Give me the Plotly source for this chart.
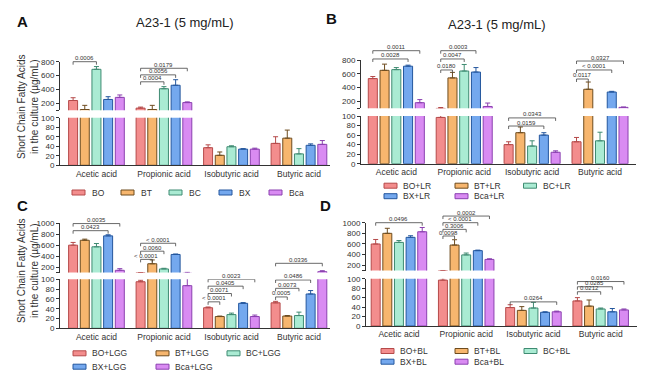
import plotly.graph_objects as go

W, H = 650, 380

# ---------------- data ----------------
categories = ["Acetic acid", "Propionic acid", "Isobutyric acid", "Butyric acid"]

A_series = ["BO", "BT", "BC", "BX", "Bca"]
A_mean = [[240, 130, 37, 46], [110, 110, 21, 57], [690, 410, 39, 24], [255, 460, 34, 42], [285, 210, 34, 44]]
A_err = [[40, 15, 6, 14], [60, 60, 7, 17], [40, 30, 2, 11], [40, 80, 1, 3], [35, 10, 2, 8]]
A_pvals = [(0, 0, 2, "0.0006", 800), (1, 0, 2, "0.0004", 510), (1, 0, 3, "0.0056", 610),
           (1, 0, 4, "0.0179", 705)]

B_series = ["BO+LR", "BT+LR", "BC+LR", "BX+LR", "Bca+LR"]
B_mean = [[530, 97, 40, 46], [650, 540, 65, 375], [660, 640, 37, 48], [710, 625, 60, 335], [180, 125, 24, 112]]
B_err = [[30, 13, 6, 9], [90, 80, 12, 105], [30, 95, 11, 18], [15, 65, 5, 10], [45, 50, 3, 5]]
B_pvals = [(0, 0, 3, "0.0028", 815), (0, 0, 4, "0.0011", 935), (1, 0, 1, "0.0180", 655),
           (1, 0, 2, "0.0047", 815), (1, 0, 3, "0.0003", 935), (2, 0, 3, "0.0159", 79),
           (2, 0, 4, "0.0343", 96), (3, 0, 1, "0.0117", 524), (3, 0, 3, "< 0.0001", 655),
           (3, 0, 4, "0.0327", 785)]

C_series = ["BO+LGG", "BT+LGG", "BC+LGG", "BX+LGG", "Bca+LGG"]
C_mean = [[600, 95, 42, 52], [690, 260, 24, 25], [570, 165, 28, 26], [770, 430, 51, 70], [140, 87, 24, 115]]
C_err = [[50, 3, 1.5, 3], [20, 70, 1, 1], [60, 12, 3, 7], [20, 8, 1.5, 7], [30, 15, 3, 18]]
C_pvals = [(0, 0, 3, "0.0423", 865), (0, 0, 4, "0.0035", 995), (1, 0, 1, "< 0.0001", 340),
           (1, 0, 2, "0.0060", 490), (1, 0, 3, "< 0.0001", 635), (2, 0, 1, "< 0.0001", 54),
           (2, 0, 2, "0.0071", 71), (2, 0, 3, "0.0405", 86), (2, 0, 4, "0.0023", 100),
           (3, 0, 1, "0.0005", 64), (3, 0, 2, "0.0073", 81.6), (3, 0, 3, "0.0486", 98.6),
           (3, 0, 4, "0.0336", 268)]

D_series = ["BO+BL", "BT+BL", "BC+BL", "BX+BL", "Bca+BL"]
D_mean = [[600, 97, 39, 53], [800, 580, 33, 42], [630, 395, 38, 36], [725, 475, 29, 30], [830, 310, 30, 34]]
D_err = [[85, 5, 6, 7], [95, 100, 8, 13], [35, 35, 12, 2], [30, 10, 1, 7], [80, 12, 1.5, 2]]
D_pvals = [(0, 0, 4, "0.0496", 1000), (1, 0, 1, "0.0098", 750), (1, 0, 2, "0.3006", 875),
           (1, 0, 3, "< 0.0001", 1000), (1, 0, 4, "0.0002", 1125), (2, 0, 4, "0.0264", 51),
           (3, 0, 2, "0.0212", 72.5), (3, 0, 3, "0.0285", 83), (3, 0, 4, "0.0160", 94)]

title_text = "A23-1 (5 mg/mL)"
ytitle_text = "Short Chain Fatty Acids<br>in the culture (µg/mL)"

# ---------------- styles / layout geometry ----------------
FONT = "Liberation Sans, Arial, sans-serif"
fills = ["#F38D8D", "#F7B66E", "#AAEBD3", "#74A8EE", "#D98BF2"]
edges = ["#B54A4A", "#6E4C1F", "#3F8B72", "#24579E", "#8B40B0"]
AX = "#333333"
BARGAP = 0.135
BARGROUPGAP = 0.23

panels = [
    dict(letter="A", series=A_series, mean=A_mean, err=A_err, pv=A_pvals,
         x=(60, 330), xr=(-0.54, 3.46), top=(61.7, 110.2), tr=(100, 800), bot=(117.7, 165.3),
         tt=[100, 200, 400, 600, 800],
         legend=dict(rows=[[0, 1, 2, 3, 4]], cols=[72, 121, 169, 219, 269], ys=[192.5], tx=18),
         lpos=(22, 22)),
    dict(letter="B", series=B_series, mean=B_mean, err=B_err, pv=B_pvals,
         x=(361, 636), xr=(-0.52, 3.53), top=(60, 108.2), tr=(100, 800), bot=(116, 163.7),
         tt=[100, 200, 400, 600, 800],
         legend=dict(rows=[[0, 1, 2], [3, 4]], cols=[384, 455, 523.5], ys=[185.7, 196.2], tx=17),
         lpos=(331, 18)),
    dict(letter="C", series=C_series, mean=C_mean, err=C_err, pv=C_pvals,
         x=(60, 330), xr=(-0.54, 3.46), top=(223.3, 272.5), tr=(100, 1000), bot=(279.3, 328.3),
         tt=[100, 200, 400, 600, 800, 1000],
         legend=dict(rows=[[0, 1, 2], [3, 4]], cols=[73, 156, 227], ys=[353.3, 366.7], tx=17),
         lpos=(22, 205)),
    dict(letter="D", series=D_series, mean=D_mean, err=D_err, pv=D_pvals,
         x=(366, 637), xr=(-0.49, 3.54), top=(222.7, 270.6), tr=(100, 1000), bot=(278.7, 326),
         tt=[100, 200, 400, 600, 800, 1000],
         legend=dict(rows=[[0, 1, 2], [3, 4]], cols=[381, 455, 524], ys=[351, 361.7], tx=17),
         lpos=(326, 205)),
]


def px_x(v):
    return v / W


def px_y(v):
    return 1 - v / H


fig = go.Figure()
layout = dict(template="none", width=W, height=H, margin=dict(l=0, r=0, t=0, b=0, pad=0, autoexpand=False),
              paper_bgcolor="white", plot_bgcolor="rgba(0,0,0,0)",
              barmode="group", bargap=BARGAP, bargroupgap=BARGROUPGAP,
              showlegend=False, font=dict(family=FONT, color=AX))
shapes = []
annotations = []

slot = (1 - BARGAP) / 5

for pi, p in enumerate(panels):
    xid = pi + 1
    yb, yt, yo = 3 * pi + 1, 3 * pi + 2, 3 * pi + 3
    xn = "x" if xid == 1 else f"x{xid}"
    ybn = "y" if yb == 1 else f"y{yb}"
    ytn, yon = f"y{yt}", f"y{yo}"
    xk = "xaxis" if xid == 1 else f"xaxis{xid}"
    ybk = "yaxis" if yb == 1 else f"yaxis{yb}"

    common = dict(showgrid=False, zeroline=False, fixedrange=True, automargin=False)
    layout[xk] = dict(domain=[px_x(p["x"][0]), px_x(p["x"][1])], range=list(p["xr"]),
                      type="category", categoryorder="array", categoryarray=categories,
                      anchor=ybn, showline=True, linecolor=AX, linewidth=1, ticks="",
                      tickfont=dict(size=8.5, color=AX), **common)
    layout[ybk] = dict(domain=[px_y(p["bot"][1]), px_y(p["bot"][0])], range=[0, 100],
                       anchor=xn, showline=True, linecolor=AX, linewidth=1, ticks="outside",
                       ticklen=3, tickcolor=AX, tickwidth=1, tickmode="array",
                       tickvals=[0, 20, 40, 60, 80, 100],
                       tickfont=dict(size=8, color=AX), **common)
    layout[f"yaxis{yt}"] = dict(domain=[px_y(p["top"][1]), px_y(p["top"][0])], range=list(p["tr"]),
                                anchor=xn, showline=True, linecolor=AX, linewidth=1,
                                ticks="outside", ticklen=3, tickcolor=AX, tickwidth=1,
                                tickmode="array", tickvals=p["tt"],
                                ticktext=["" if v == p["tr"][0] else str(v) for v in p["tt"]],
                                tickfont=dict(size=8, color=AX), **common)
    # overlay axis: same scale as top segment, extended upwards for brackets
    upp_top = (p["tr"][1] - p["tr"][0]) / (p["top"][1] - p["top"][0])
    ov_top_px = max(2.0, p["top"][0] - 40)
    ov_hi = p["tr"][1] + (p["top"][0] - ov_top_px) * upp_top
    layout[f"yaxis{yo}"] = dict(domain=[px_y(p["top"][1]), px_y(ov_top_px)],
                                range=[p["tr"][0], ov_hi], anchor=xn, visible=False,
                                **common)
    upp_bot = 100 / (p["bot"][1] - p["bot"][0])

    for k, name in enumerate(p["series"]):
        for yaxis_name in (ybn, ytn):
            fig.add_trace(go.Bar(
                x=categories, y=p["mean"][k], name=name, xaxis=xn, yaxis=yaxis_name,
                marker=dict(color=fills[k], line=dict(color=edges[k], width=1)),
                error_y=dict(type="data", array=p["err"][k], arrayminus=[0] * len(categories),
                             symmetric=False, color=edges[k], thickness=1, width=2.5),
                showlegend=False, hoverinfo="skip"))
    # helper (invisible) so the overlay subplot exists
    fig.add_trace(go.Scatter(x=[categories[0]], y=[p["tr"][0]], xaxis=xn, yaxis=yon,
                             mode="markers", marker=dict(opacity=0, size=1),
                             showlegend=False, hoverinfo="skip"))

    # significance brackets
    for (g, i, j, lab, lev) in p["pv"]:
        xi = g + (i - 2) * slot
        xj = g + (j - 2) * slot
        if lev > 100:
            yref, drop = yon, 3 * upp_top
        else:
            yref, drop = ybn, 3 * upp_bot
        ln = dict(color="#444444", width=0.8)
        shapes.append(dict(type="line", xref=xn, yref=yref, x0=xi, x1=xj, y0=lev, y1=lev, line=ln))
        shapes.append(dict(type="line", xref=xn, yref=yref, x0=xi, x1=xi, y0=lev - drop, y1=lev, line=ln))
        shapes.append(dict(type="line", xref=xn, yref=yref, x0=xj, x1=xj, y0=lev - drop, y1=lev, line=ln))
        annotations.append(dict(x=(xi + xj) / 2, y=lev, xref=xn, yref=yref, text=lab,
                                showarrow=False, xanchor="center", yanchor="bottom", yshift=-1.5,
                                font=dict(size=6, color="#333333", family=FONT)))

    # manual legend
    lg = p["legend"]
    for r, row in enumerate(lg["rows"]):
        for c, k in enumerate(row):
            x0 = lg["cols"][c]
            yc = lg["ys"][r]
            shapes.append(dict(type="rect", xref="paper", yref="paper",
                               x0=px_x(x0), x1=px_x(x0 + 13), y0=px_y(yc + 2.5), y1=px_y(yc - 2.5),
                               fillcolor=fills[k], line=dict(color=edges[k], width=1)))
            annotations.append(dict(x=px_x(x0 + lg["tx"]), y=px_y(yc), xref="paper", yref="paper",
                                    text=p["series"][k], showarrow=False, xanchor="left",
                                    yanchor="middle", font=dict(size=8.5, color="#333333", family=FONT)))

    # panel letter
    annotations.append(dict(x=px_x(p["lpos"][0]), y=px_y(p["lpos"][1]), xref="paper", yref="paper",
                            text=f"<b>{p['letter']}</b>", showarrow=False, xanchor="center",
                            yanchor="middle", font=dict(size=15, color="#111111", family=FONT)))

# titles
annotations.append(dict(x=px_x(185), y=px_y(23), xref="paper", yref="paper", text=title_text,
                        showarrow=False, xanchor="center", yanchor="middle",
                        font=dict(size=13, color="#222222", family=FONT)))
annotations.append(dict(x=px_x(497), y=px_y(25), xref="paper", yref="paper", text=title_text,
                        showarrow=False, xanchor="center", yanchor="middle",
                        font=dict(size=13, color="#222222", family=FONT)))
# y-axis titles (A and C)
for yc in (107, 271):
    annotations.append(dict(x=px_x(28), y=px_y(yc), xref="paper", yref="paper", text=ytitle_text,
                            showarrow=False, textangle=-90, xanchor="center", yanchor="middle",
                            font=dict(size=10, color="#333333", family=FONT)))

layout["shapes"] = shapes
layout["annotations"] = annotations
fig.update_layout(**layout)
fig.write_html("out.html", config={"displayModeBar": False},
               post_script="document.body.style.margin='0';")
